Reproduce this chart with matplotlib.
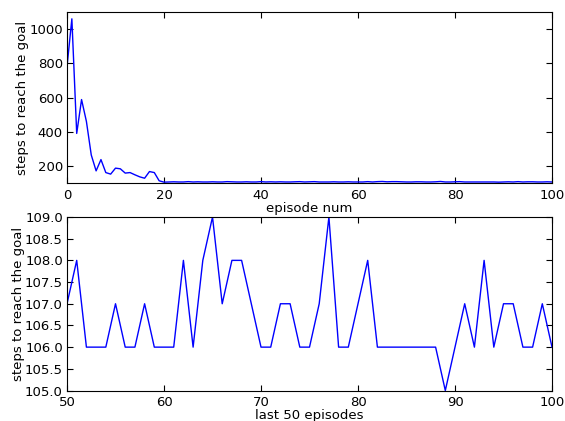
import matplotlib
matplotlib.use('Agg')
import matplotlib.pyplot as plt

# steps per episode, episodes 0..100
steps_start = [780, 1060, 390, 588, 460, 264, 171, 237, 161, 152,
               187, 183, 158, 161, 148, 136, 128, 167, 161, 113]
steps_middle = [105, 106, 107, 106, 106, 108, 106, 107, 106, 106,
                107, 106, 106, 108, 107, 106, 106, 107, 106, 106,
                108, 106, 107, 106, 107, 106, 106, 107, 108, 106]
steps_last = [107, 108, 106, 106, 106, 107, 106, 106, 107, 106,
              106, 106, 108, 106, 108, 109, 107, 108, 108, 107,
              106, 106, 107, 107, 106, 106, 107, 109, 106, 106,
              107, 108, 106, 106, 106, 106, 106, 106, 106, 105,
              106, 107, 106, 108, 106, 107, 107, 106, 106, 107,
              106]
steps = steps_start + steps_middle + steps_last
episodes = list(range(len(steps)))

plt.rcParams['font.family'] = 'DejaVu Sans'
plt.rcParams['font.size'] = 9.5
plt.rcParams['xtick.direction'] = 'in'
plt.rcParams['ytick.direction'] = 'in'
plt.rcParams['xtick.top'] = True
plt.rcParams['ytick.right'] = True
plt.rcParams['xtick.major.size'] = 4
plt.rcParams['ytick.major.size'] = 4
plt.rcParams['xtick.major.pad'] = 4
plt.rcParams['ytick.major.pad'] = 3

fig = plt.figure(figsize=(5.65, 4.21), dpi=100)

# whole run
ax1 = fig.add_axes([0.1186, 0.5653, 0.8584, 0.4062])
ax1.plot(episodes, steps, color='b', linewidth=1)
ax1.set_xlim(0, 100)
ax1.set_ylim(100, 1100)
ax1.set_xticks([0, 20, 40, 60, 80, 100])
ax1.set_yticks([200, 400, 600, 800, 1000])
ax1.set_xlabel('episode num', labelpad=0)
ax1.set_ylabel('steps to reach the goal', labelpad=0)

# last 50 episodes
ax2 = fig.add_axes([0.1186, 0.0724, 0.8584, 0.4122])
ax2.plot(episodes[50:], steps[50:], color='b', linewidth=1)
ax2.set_xlim(50, 100)
ax2.set_ylim(105, 109)
ax2.set_xticks([50, 60, 70, 80, 90, 100])
ax2.set_yticks([105.0, 105.5, 106.0, 106.5, 107.0, 107.5, 108.0, 108.5, 109.0])
ax2.yaxis.set_major_formatter(matplotlib.ticker.FormatStrFormatter('%.1f'))
ax2.set_xlabel('last 50 episodes', labelpad=0)
ax2.set_ylabel('steps to reach the goal', labelpad=0)

fig.savefig('out.png', dpi=100)
